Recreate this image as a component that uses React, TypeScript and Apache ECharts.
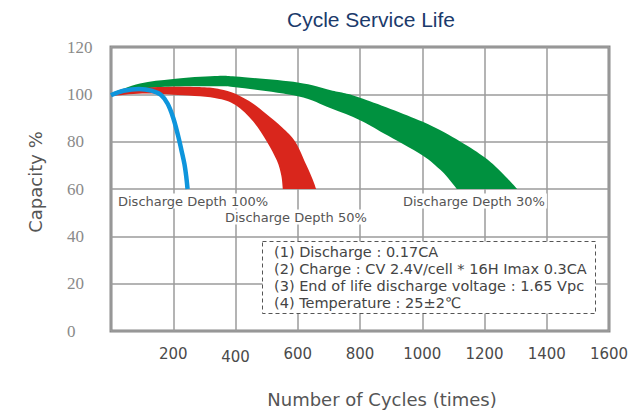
import { useEffect, useRef } from "react";
import * as echarts from "echarts";

const xTickValues = [0, 200, 400, 600, 800, 1000, 1200, 1400, 1600];
const yTickValues = [0, 20, 40, 60, 80, 100, 120];

const depth100Cycles = [0, 40, 90, 130, 160, 182, 200, 215, 227, 236, 242, 246];
const depth100Capacity = [99.6, 101.5, 102.3, 101.6, 99.8, 96, 90, 82.8, 76, 70.5, 65, 60];

const depth50UpperCycles = [0, 100, 200, 300, 350, 400, 457, 496, 550, 592, 628, 648, 659];
const depth50UpperCapacity = [100.3, 102.6, 103.2, 103, 102.2, 100.2, 96, 92, 86, 80, 70, 64, 60];
const depth50LowerCycles = [0, 100, 200, 333, 400, 457, 500, 533, 547, 552];
const depth50LowerCapacity = [99.2, 100.3, 99.8, 98.5, 95.5, 88.5, 80.2, 72, 65.8, 60];

const depth30UpperCycles = [0, 93, 200, 333, 400, 600, 706, 800, 1000, 1123, 1200, 1251, 1305];
const depth30UpperCapacity = [100.5, 104.6, 106.5, 107.7, 107.5, 105, 101.7, 98.6, 88.5, 80, 73.4, 67.5, 60];
const depth30LowerCycles = [0, 100, 200, 333, 400, 600, 706, 800, 877, 1000, 1059, 1090, 1111];
const depth30LowerCapacity = [100, 102.3, 103.3, 103.4, 103, 99.2, 94.1, 89.1, 83.5, 74.3, 68, 63.5, 60];

const depthLabels = ["Discharge Depth 100%", "Discharge Depth 50%", "Discharge Depth 30%"];
const conditionLines = [
  "(1) Discharge : 0.17CA",
  "(2) Charge : CV 2.4V/cell * 16H Imax 0.3CA",
  "(3) End of life discharge voltage : 1.65 Vpc",
  "(4) Temperature : 25±2℃",
];

const GREEN = "#00913f";
const RED = "#d9261c";
const BLUE = "#0e95dc";

function smoothSegments(pts: number[][]): string {
  let d = "";
  for (let i = 0; i < pts.length - 1; i++) {
    const p0 = pts[i - 1] || pts[i];
    const p1 = pts[i];
    const p2 = pts[i + 1];
    const p3 = pts[i + 2] || p2;
    const c1x = p1[0] + (p2[0] - p0[0]) / 6;
    const c1y = p1[1] + (p2[1] - p0[1]) / 6;
    const c2x = p2[0] - (p3[0] - p1[0]) / 6;
    const c2y = p2[1] - (p3[1] - p1[1]) / 6;
    d += ` C ${c1x} ${c1y} ${c2x} ${c2y} ${p2[0]} ${p2[1]}`;
  }
  return d;
}

function bandSeries(
  name: string,
  ux: number[],
  uy: number[],
  lx: number[],
  ly: number[],
  color: string,
  z: number
) {
  return {
    type: "custom",
    name,
    coordinateSystem: "cartesian2d",
    silent: true,
    z,
    data: ux.map((x, i) => [x, uy[i]]),
    encode: { x: 0, y: 1 },
    renderItem: (params: any, api: any) => {
      if (params.dataIndex !== 0) return null;
      const up = ux.map((x, i) => api.coord([x, uy[i]]));
      const lo = lx.map((x, i) => api.coord([x, ly[i]])).reverse();
      const d =
        `M ${up[0][0]} ${up[0][1]}` +
        smoothSegments(up) +
        ` L ${lo[0][0]} ${lo[0][1]}` +
        smoothSegments(lo) +
        " Z";
      return { type: "path", shape: { pathData: d }, style: { fill: color } };
    },
  };
}

export default function App() {
  const ref = useRef<HTMLDivElement>(null);
  useEffect(() => {
    if (!ref.current) return;
    const chart = echarts.init(ref.current, null, { renderer: "svg" });
    const labelStyle = {
      fontFamily: "DejaVu Sans",
      fontSize: 13,
      fill: "#555",
      backgroundColor: "#fff",
      padding: [1, 2],
    };
    chart.setOption({
      animation: false,
      backgroundColor: "#fff",
      grid: {
        left: 111,
        top: 47,
        width: 498,
        height: 284,
        show: true,
        backgroundColor: "#fff",
        borderColor: "#8a8a8a",
        borderWidth: 3,
      },
      xAxis: {
        type: "value",
        min: 0,
        max: 1600,
        interval: 200,
        axisLine: { show: false },
        axisTick: { show: false },
        splitLine: { lineStyle: { color: "#9b9b9b", width: 1.5 } },
        axisLabel: {
          margin: 15,
          fontFamily: "DejaVu Sans",
          fontSize: 15,
          color: "#4a4a4a",
          lineHeight: 15,
          formatter: (v: number) =>
            v === 0 ? "" : v === 400 ? `{low|${v}}` : String(v),
          rich: {
            low: {
              fontFamily: "DejaVu Sans",
              fontSize: 15,
              color: "#4a4a4a",
              lineHeight: 21,
            },
          },
        },
        name: "Number of Cycles (times)",
        nameLocation: "middle",
        nameGap: 59,
        nameTextStyle: {
          fontFamily: "DejaVu Sans",
          fontSize: 18,
          color: "#555",
          padding: [0, 0, 0, 44],
        },
        data: xTickValues,
      },
      yAxis: {
        type: "value",
        min: yTickValues[0],
        max: yTickValues[yTickValues.length - 1],
        interval: 20,
        axisLine: { show: false },
        axisTick: { show: false },
        splitLine: { lineStyle: { color: "#9b9b9b", width: 1.5 } },
        axisLabel: {
          align: "left",
          margin: 44,
          fontFamily: "'Liberation Serif', 'DejaVu Serif', serif",
          fontSize: 17,
          color: "#8a8a8a",
        },
        name: "Capacity %",
        nameLocation: "middle",
        nameGap: 67,
        nameTextStyle: {
          fontFamily: "DejaVu Sans",
          fontSize: 18,
          color: "#555",
          padding: [0, 0, 0, 14],
        },
      },
      series: [
        bandSeries(
          depthLabels[2],
          depth30UpperCycles,
          depth30UpperCapacity,
          depth30LowerCycles,
          depth30LowerCapacity,
          GREEN,
          2
        ),
        bandSeries(
          depthLabels[1],
          depth50UpperCycles,
          depth50UpperCapacity,
          depth50LowerCycles,
          depth50LowerCapacity,
          RED,
          3
        ),
        {
          type: "line",
          name: depthLabels[0],
          z: 4,
          smooth: 0.35,
          showSymbol: false,
          silent: true,
          lineStyle: { color: BLUE, width: 4.5, cap: "butt" },
          data: depth100Cycles.map((x, i) => [x, depth100Capacity[i]]),
        },
      ],
      graphic: [
        {
          type: "text",
          z: 100,
          x: 371,
          y: 19,
          style: {
            text: "Cycle Service Life",
            fontFamily: "Liberation Sans",
            fontSize: 21,
            fill: "#1b3a6b",
            align: "center",
            verticalAlign: "middle",
          },
        },
        {
          type: "text",
          z: 100,
          x: 116,
          y: 201,
          style: { ...labelStyle, text: depthLabels[0], verticalAlign: "middle" },
        },
        {
          type: "text",
          z: 100,
          x: 223,
          y: 217,
          style: { ...labelStyle, text: depthLabels[1], verticalAlign: "middle" },
        },
        {
          type: "text",
          z: 100,
          x: 401,
          y: 201,
          style: { ...labelStyle, text: depthLabels[2], verticalAlign: "middle" },
        },
        {
          type: "rect",
          z: 100,
          shape: { x: 262.5, y: 241.5, width: 333, height: 72 },
          style: { fill: "#fff", stroke: "#555", lineWidth: 1, lineDash: [4, 3] },
        },
        ...conditionLines.map((t, i) => ({
          type: "text",
          z: 101,
          x: 274,
          y: 252 + i * 17.1,
          style: {
            text: t,
            fontFamily: "DejaVu Sans",
            fontSize: 14.5,
            fill: "#444",
            verticalAlign: "middle",
          },
        })),
      ],
    });
    return () => chart.dispose();
  }, []);
  return (
    <div
      ref={ref}
      style={{ position: "fixed", left: 0, top: 0, width: 642, height: 414 }}
    />
  );
}
